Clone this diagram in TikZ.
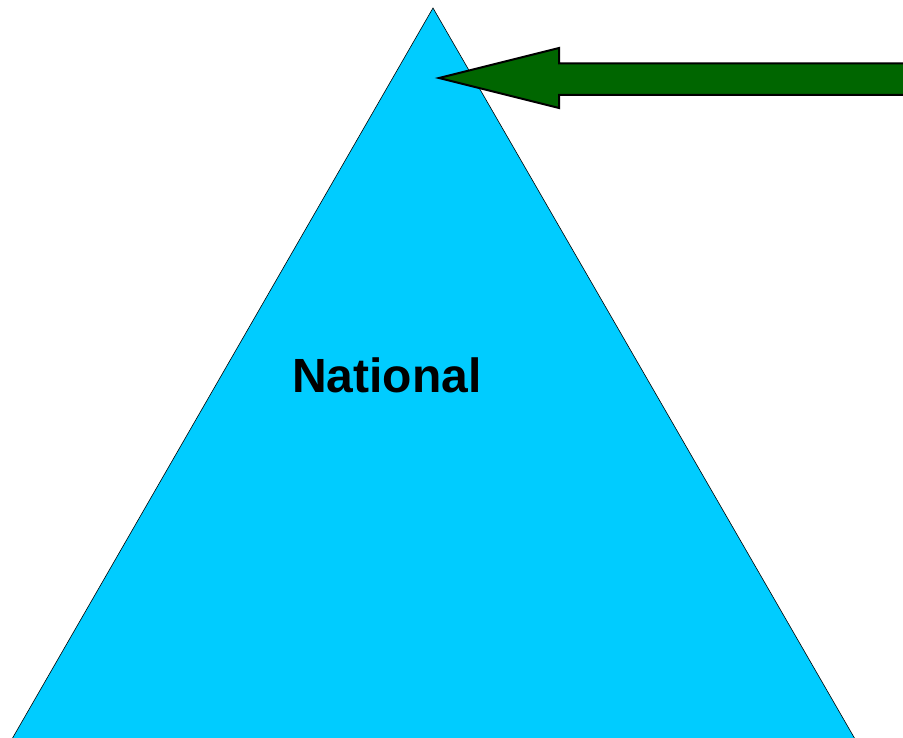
\documentclass[tikz,border=0pt]{standalone}
\usepackage{fontspec}
\setmainfont{Liberation Sans}
\usetikzlibrary{positioning, calc}

\begin{document}
\begin{tikzpicture}[
        x=1pt, y=-1pt,
        font=\bfseries\fontsize{48}{50}\selectfont,
        level/.style={fill={rgb,255:red,0;green,204;blue,255}, draw=black, line width=0.6pt, line join=miter},
        pointer/.style={fill={rgb,255:red,0;green,102;blue,0}, draw=black, line width=2pt, line join=miter}
    ]
        \clip (0,0) rectangle (903,738);
        \useasboundingbox (0,0) rectangle (903,738);

        \coordinate (top) at (433,8);
        \coordinate (baseL) at (12,739);
        \coordinate (baseR) at (855,739);
        \draw[level] (top) -- (baseR) -- (baseL) -- cycle;

        \node (nat) at (387,375) {National};

        \coordinate (tip) at (439,78);
        \draw[pointer] (tip) -- (559,48) -- (559,63.5) -- (915,63.5) -- (915,95) -- (559,95) -- (559,108) -- cycle;
    \end{tikzpicture}
\end{document}
